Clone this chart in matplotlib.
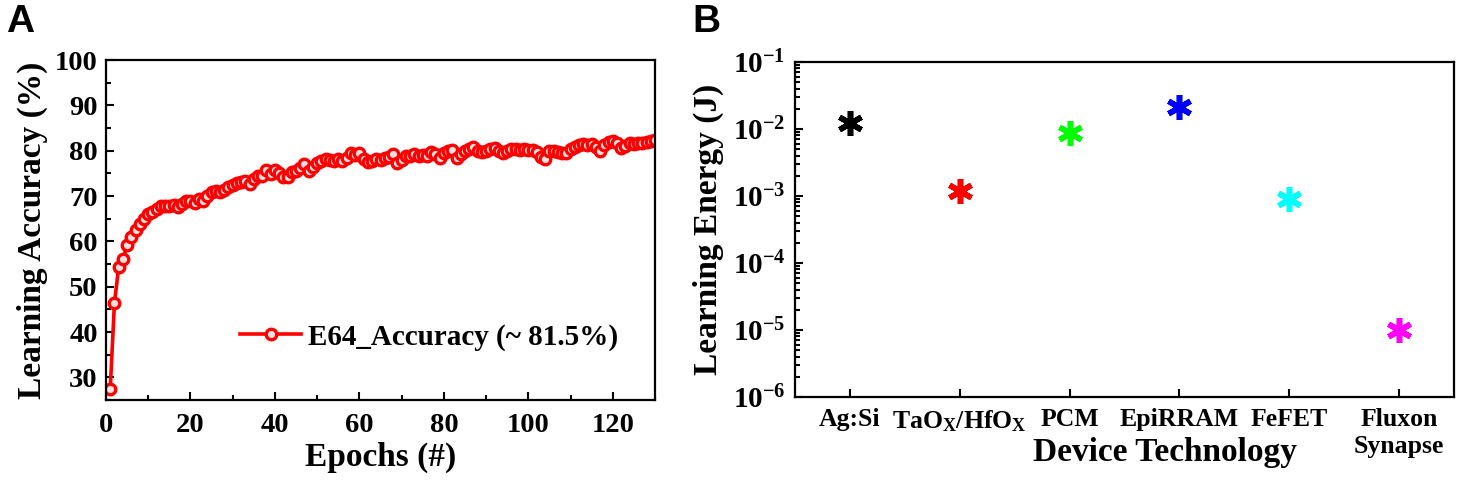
import numpy as np
import matplotlib
matplotlib.use('Agg')
import matplotlib.pyplot as plt
from matplotlib.ticker import MultipleLocator, FixedLocator, LogLocator, NullFormatter

# Panel A: learning accuracy per epoch
epochs = list(range(1, 131))
accuracy = [
    27.4, 46.4, 54.3, 56.0, 59.2, 61.0, 62.5, 63.9, 65.0, 66.1,
    66.5, 67.2, 67.7, 67.9, 67.9, 68.0, 67.6, 68.3, 69.0, 68.9,
    68.4, 69.3, 69.0, 69.9, 70.9, 71.1, 70.9, 71.4, 72.0, 72.5,
    72.8, 73.1, 73.3, 72.7, 73.8, 74.5, 74.5, 75.8, 74.9, 75.8,
    75.0, 74.3, 74.3, 75.2, 75.5, 76.2, 77.0, 75.5, 76.5, 77.3,
    77.8, 78.1, 78.0, 77.7, 78.2, 77.8, 78.3, 79.5, 79.1, 79.4,
    78.1, 77.5, 77.8, 78.1, 78.0, 78.4, 78.6, 79.2, 77.3, 78.0,
    78.8, 78.9, 79.2, 78.8, 79.0, 78.8, 79.7, 79.2, 78.3, 79.4,
    79.9, 80.1, 78.4, 79.2, 79.9, 80.3, 80.9, 80.0, 79.7, 80.0,
    80.3, 80.6, 80.0, 79.5, 80.0, 80.4, 80.3, 80.2, 80.4, 80.1,
    80.1, 79.8, 78.5, 78.2, 80.0, 79.9, 79.7, 79.5, 79.5, 80.3,
    80.8, 81.2, 81.4, 81.2, 81.4, 80.8, 80.0, 81.2, 81.9, 82.1,
    81.6, 80.6, 81.0, 81.7, 81.5, 81.7, 81.7, 81.9, 82.1, 82.3,
]
legend_label = 'E64_Accuracy (~ 81.5%)'

# Panel B: learning energy per device technology
devices = ['Ag:Si', 'TaO$_\\mathrm{X}$/HfO$_\\mathrm{X}$', 'PCM', 'EpiRRAM', 'FeFET', 'Fluxon\nSynapse']
energy = [1.23e-2, 1.18e-3, 8.7e-3, 2.1e-2, 9.1e-4, 1.0e-5]
dev_colors = ['#000000', '#ff0000', '#00ff00', '#0000ff', '#00ffff', '#ff00ff']
energy_ticks = [1e-6, 1e-5, 1e-4, 1e-3, 1e-2, 1e-1]
energy_tick_labels = ['$10^{-6}$', '$10^{-5}$', '$10^{-4}$', '$10^{-3}$', '$10^{-2}$', '$10^{-1}$']

plt.rcParams['font.family'] = ['Liberation Serif', 'DejaVu Serif']
plt.rcParams['font.weight'] = 'bold'
plt.rcParams['axes.labelweight'] = 'bold'
plt.rcParams['mathtext.fontset'] = 'custom'
plt.rcParams['mathtext.rm'] = 'Liberation Serif:bold'
plt.rcParams['mathtext.it'] = 'Liberation Serif:bold'
plt.rcParams['mathtext.bf'] = 'Liberation Serif:bold'
plt.rcParams['mathtext.default'] = 'rm'

W, H = 1462, 484
fig = plt.figure(figsize=(W / 100, H / 100), dpi=100)

def px_axes(l, t, r, b):
    return fig.add_axes([l / W, (H - b) / H, (r - l) / W, (b - t) / H])

# ---- Panel A
ax1 = px_axes(106, 60, 655, 400)
ax1.plot(epochs, accuracy, color='red', lw=2.6, marker='o', ms=7.6,
         mfc='#ffe0e0', mec='red', mew=2.4, label=legend_label)
ax1.set_xlim(0, 130)
ax1.set_ylim(25, 100)
ax1.xaxis.set_major_locator(MultipleLocator(20))
ax1.xaxis.set_minor_locator(MultipleLocator(10))
ax1.yaxis.set_major_locator(MultipleLocator(10))
ax1.yaxis.set_minor_locator(MultipleLocator(5))
ax1.set_yticks(range(30, 101, 10))
ax1.set_xlabel('Epochs (#)', fontsize=24, labelpad=3)
ax1.set_ylabel('Learning Accuracy (%)', fontsize=24, labelpad=5)
ax1.legend(loc='center left', bbox_to_anchor=(0.244, 0.185), frameon=False,
           fontsize=21, handlelength=2.1, handletextpad=0.25,
           borderpad=0, borderaxespad=0, numpoints=1)

# ---- Panel B
ax2 = px_axes(795, 62, 1454, 397)
xpos = np.arange(1, len(devices) + 1)
for x, e, c in zip(xpos, energy, dev_colors):
    ax2.plot(x, e, linestyle='none', marker=(6, 2, 0), ms=18, mew=4.0, color=c)
ax2.set_yscale('log')
ax2.set_ylim(1e-6, 1e-1)
ax2.set_xlim(0.5, len(devices) + 0.5)
ax2.yaxis.set_major_locator(FixedLocator(energy_ticks))
ax2.set_yticklabels(energy_tick_labels)
ax2.yaxis.set_minor_locator(LogLocator(base=10, subs=np.arange(2, 10)))
ax2.yaxis.set_minor_formatter(NullFormatter())
ax2.set_xticks(xpos)
ax2.set_xticklabels(devices, fontsize=18.5)
ax2.set_xlabel('Device Technology', fontsize=24)
ax2.xaxis.set_label_coords(0.5615, -0.118)
ax2.xaxis.label.set_va('top')
ax2.set_ylabel('Learning Energy (J)', fontsize=24, labelpad=6)

for ax in (ax1, ax2):
    for s in ax.spines.values():
        s.set_linewidth(1.6)
    ax.tick_params(which='both', direction='in', top=False, right=False, width=1.5)
    ax.tick_params(which='major', length=6)
    ax.tick_params(which='minor', length=3.5)
ax1.tick_params(axis='both', which='major', labelsize=20.5)
ax1.tick_params(axis='x', pad=9)
ax1.tick_params(axis='y', pad=6)
ax2.tick_params(axis='y', which='major', labelsize=21, pad=7)
ax2.tick_params(axis='x', pad=8)

fig.text(6 / W, 1 - 4 / H, 'A', fontsize=28, fontweight='bold', family='Liberation Sans', va='top', ha='left')
fig.text(692 / W, 1 - 4 / H, 'B', fontsize=28, fontweight='bold', family='Liberation Sans', va='top', ha='left')

fig.savefig('out.png', dpi=100)
